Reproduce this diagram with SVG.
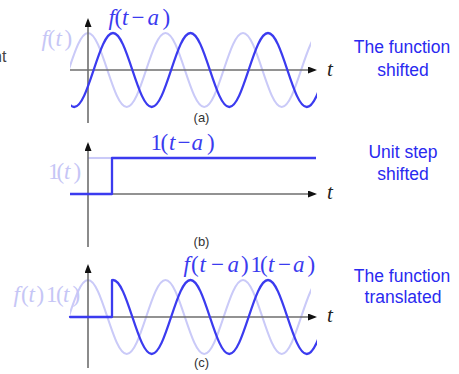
<svg xmlns="http://www.w3.org/2000/svg" width="459" height="374" viewBox="0 0 459 374">
<style>
.bg{fill:#ffffff}
.ax{stroke:#6e6e6e;stroke-width:1.6;fill:none}
.wb{stroke:#3b3bef;stroke-width:2.3;fill:none;stroke-linejoin:round}
.wf{stroke:#cacaf8;stroke-width:2.1;fill:none}
.m{font-family:"Liberation Serif","Times New Roman",serif;font-size:23px}
.mb{fill:#3b3bef}
.mf{fill:#c6c6f6}
.it{font-style:italic}
.tl{font-family:"Liberation Serif","Times New Roman",serif;font-size:21px;font-style:italic;fill:#222}
.cap{font-family:"Liberation Sans",Arial,sans-serif;font-size:13px;fill:#333;text-anchor:middle}
.lab{font-family:"Liberation Sans",Arial,sans-serif;font-size:17.5px;fill:#2a2af0;text-anchor:middle}
.cut{font-family:"Liberation Sans",Arial,sans-serif;font-size:16px;fill:#444}
</style>
<defs>
<marker id="ah" markerUnits="userSpaceOnUse" markerWidth="10" markerHeight="8" refX="7" refY="3.5" orient="auto">
<path d="M0,0 L9,3.5 L0,7 z" fill="#111"/>
</marker>
<path id="fw" d="M68.625,0 c6.318,-18.955 12.363,-37 19.375,-37 s13.057,18.045 19.375,37 s12.363,37 19.375,37 s13.057,-18.045 19.375,-37 s12.363,-37 19.375,-37 s13.057,18.045 19.375,37 s12.363,37 19.375,37 s13.057,-18.045 19.375,-37 s12.363,-37 19.375,-37 s13.057,18.045 19.375,37 s12.363,37 19.375,37 s13.057,-18.045 19.375,-37 s12.363,-37 19.375,-37"/>
<path id="bw" d="M54.875,0 c6.318,18.955 12.363,37 19.375,37 s13.057,-18.045 19.375,-37 s12.363,-37 19.375,-37 s13.057,18.045 19.375,37 s12.363,37 19.375,37 s13.057,-18.045 19.375,-37 s12.363,-37 19.375,-37 s13.057,18.045 19.375,37 s12.363,37 19.375,37 s13.057,-18.045 19.375,-37 s12.363,-37 19.375,-37 s13.057,18.045 19.375,37 s12.363,37 19.375,37 s13.057,-18.045 19.375,-37"/>
<clipPath id="cf"><rect x="70" y="-50" width="241" height="100"/></clipPath>
<clipPath id="cb"><rect x="71" y="-50" width="246" height="100"/></clipPath>
<clipPath id="cc"><rect x="112" y="-50" width="205" height="100"/></clipPath>
</defs>
<rect class="bg" x="0" y="0" width="459" height="374"/>

<text class="cut" x="-7" y="62">nt</text>

<g id="panel-a">
<g transform="translate(0,70)"><use href="#fw" class="wf" clip-path="url(#cf)"/></g>
<line class="ax" x1="88" y1="123" x2="88" y2="20" marker-end="url(#ah)"/>
<line class="ax" x1="70" y1="70" x2="315" y2="70" marker-end="url(#ah)"/>
<g transform="translate(0,70)"><use href="#bw" class="wb" clip-path="url(#cb)"/></g>
<text class="m mf" y="46"><tspan class="it" x="41.5">f</tspan><tspan x="47.5">(</tspan><tspan class="it" x="55.5">t</tspan><tspan x="64.5">)</tspan></text>
<text class="m mb" y="25"><tspan class="it" x="108.5">f</tspan><tspan x="114.5">(</tspan><tspan class="it" x="122">t</tspan><tspan x="131.5">−</tspan><tspan class="it" x="147.5">a</tspan><tspan x="162.5">)</tspan></text>
<text class="tl" x="327" y="76">t</text>
<text class="cap" x="201.5" y="122">(a)</text>
</g>

<g id="panel-b">
<line class="wf" x1="88" y1="158" x2="112" y2="158"/>
<line class="ax" x1="88" y1="247" x2="88" y2="144" marker-end="url(#ah)"/>
<line class="ax" x1="70" y1="194" x2="315" y2="194" marker-end="url(#ah)"/>
<polyline class="wb" points="70,194 112,194 112,158 316,158"/>
<text class="m mf" y="179"><tspan x="48">1</tspan><tspan x="56.5">(</tspan><tspan class="it" x="64">t</tspan><tspan x="73.5">)</tspan></text>
<text class="m mb" y="150"><tspan x="150.5">1</tspan><tspan x="160.5">(</tspan><tspan class="it" x="169">t</tspan><tspan x="177.5">−</tspan><tspan class="it" x="191.5">a</tspan><tspan x="207">)</tspan></text>
<text class="tl" x="327" y="199">t</text>
<text class="cap" x="201.5" y="245.5">(b)</text>
</g>

<g id="panel-c">
<g transform="translate(0,317)"><use href="#fw" class="wf" clip-path="url(#cf)"/></g>
<line class="ax" x1="88" y1="368" x2="88" y2="266" marker-end="url(#ah)"/>
<line class="ax" x1="70" y1="317" x2="315" y2="317" marker-end="url(#ah)"/>
<polyline class="wb" points="70,317 112,317 112,280.2" stroke-linecap="round"/>
<g transform="translate(0,317)"><use href="#bw" class="wb" clip-path="url(#cc)"/></g>
<text class="m mf" y="302"><tspan class="it" x="13.5">f</tspan><tspan x="21">(</tspan><tspan class="it" x="28.5">t</tspan><tspan x="36.5">)</tspan><tspan x="46">1</tspan><tspan x="56">(</tspan><tspan class="it" x="63">t</tspan><tspan x="72.5">)</tspan></text>
<text class="m mb" y="272"><tspan class="it" x="183.5">f</tspan><tspan x="191">(</tspan><tspan class="it" x="199.5">t</tspan><tspan x="211">−</tspan><tspan class="it" x="227.5">a</tspan><tspan x="241">)</tspan><tspan x="250.5">1</tspan><tspan x="260">(</tspan><tspan class="it" x="268">t</tspan><tspan x="278">−</tspan><tspan class="it" x="293">a</tspan><tspan x="307.5">)</tspan></text>
<text class="tl" x="327" y="322">t</text>
<text class="cap" x="201.5" y="367">(c)</text>
</g>

<g id="labels">
<text class="lab" x="402" y="53">The function</text>
<text class="lab" x="403" y="76">shifted</text>
<text class="lab" x="403" y="158">Unit step</text>
<text class="lab" x="403" y="180">shifted</text>
<text class="lab" x="402" y="281.5">The function</text>
<text class="lab" x="403" y="303">translated</text>
</g>
</svg>
